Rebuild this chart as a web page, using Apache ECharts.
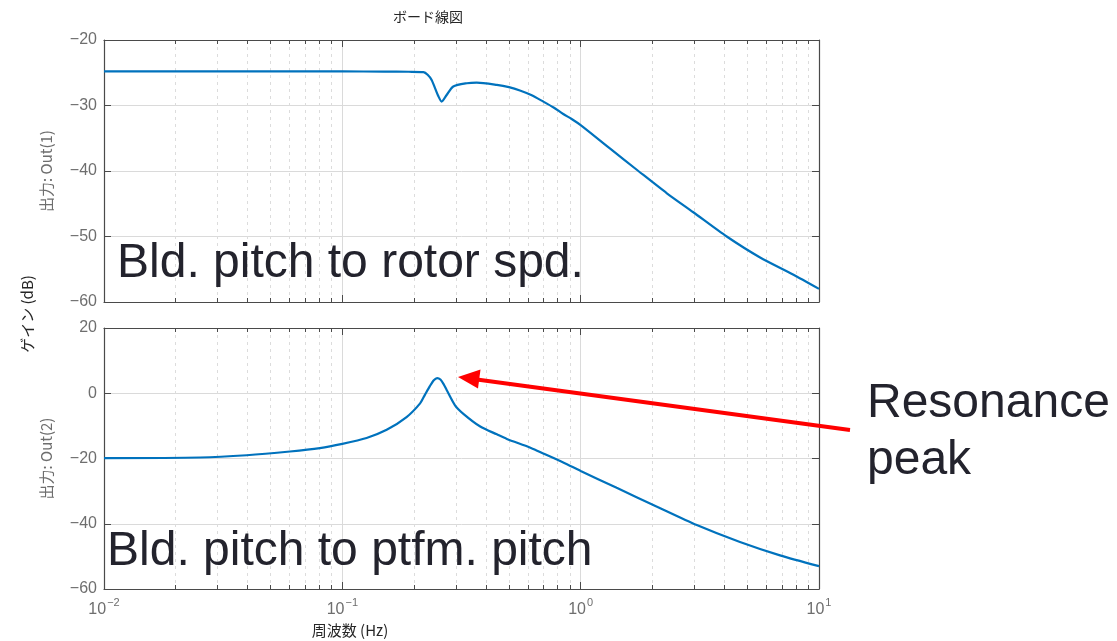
<!DOCTYPE html>
<html>
<head>
<meta charset="utf-8">
<script src="https://cdn.jsdelivr.net/npm/echarts@6/dist/echarts.min.js"></script>
<style>
  html, body { margin: 0; padding: 0; background: #fff; }
  #chart { width: 1117px; height: 641px; }
</style>
</head>
<body>
<div id="chart"></div>
<script>
// ---- data (frequency in Hz, gain in dB) ----
const topFreq = [0.01, 0.03, 0.1, 0.15, 0.19, 0.219, 0.228, 0.237, 0.253, 0.261, 0.274, 0.292, 0.333, 0.366, 0.445, 0.5, 0.556, 0.62, 0.697, 0.77, 0.845, 0.92, 1.0, 1.33, 1.746, 2.3, 2.97, 4.1, 5.66, 7.78, 10];
const topGain = [-24.8, -24.8, -24.8, -24.82, -24.85, -24.9, -25.3, -26.1, -28.6, -29.4, -28.4, -27.1, -26.6, -26.5, -26.85, -27.2, -27.7, -28.4, -29.4, -30.3, -31.3, -32.1, -33.0, -36.6, -40.0, -43.4, -46.3, -50.0, -53.2, -55.8, -58.0];
const botFreq = [0.01, 0.0253, 0.0397, 0.0603, 0.0805, 0.1, 0.1264, 0.1535, 0.186, 0.212, 0.222, 0.233, 0.242, 0.250, 0.258, 0.266, 0.274, 0.297, 0.322, 0.379, 0.445, 0.49, 0.612, 0.675, 0.845, 1.0, 1.416, 2.08, 3.07, 4.66, 6.86, 10];
const botGain = [-19.9, -19.7, -19.0, -17.85, -16.8, -15.5, -13.7, -11.2, -7.3, -3.1, -0.5, 2.2, 4.0, 4.66, 4.2, 2.8, 1.0, -3.7, -6.3, -10.2, -12.6, -14.0, -16.6, -18.0, -21.2, -23.8, -29.0, -34.7, -40.4, -45.6, -49.7, -53.0];

const xDecadeExponents = [-2, -1, 0, 1];
const minorMultipliers = [2, 3, 4, 5, 6, 7, 8, 9];
const yTicksTop = [-60, -50, -40, -30, -20];
const yTicksBot = [-60, -40, -20, 0, 20];

const titleText = 'ボード線図';
const xName = '周波数 (Hz)';
const yNameAll = 'ゲイン (dB)';
const yName1 = '出力: Out(1)';
const yName2 = '出力: Out(2)';
const note1 = 'Bld. pitch to rotor spd.';
const note2 = 'Bld. pitch to ptfm. pitch';
const note3 = ['Resonance', 'peak'];

// ---- helpers ----
const xMin = xDecadeExponents[0], xMax = xDecadeExponents[xDecadeExponents.length - 1];
const minorVals = [];
for (let e = xMin; e < xMax; e++) {
  minorMultipliers.forEach(m => minorVals.push(Math.log10(m) + e));
}
const toPts = (f, g) => f.map((v, i) => [Math.log10(v), g[i]]);

const axisColor = '#4a4a4a';
const labelColor = '#6e6e6e';
const grids = [
  { left: 104, top: 40, width: 715, height: 262 },
  { left: 104, top: 328, width: 715, height: 261 }
];

const xAxes = [];
const yAxes = [];
grids.forEach((g, gi) => {
  const isBottom = gi === 1;
  xAxes.push({
    gridIndex: gi, type: 'value', min: xMin, max: xMax, interval: 1, position: 'bottom',
    axisLine: { show: true, onZero: false, lineStyle: { color: axisColor, width: 1.2 } },
    axisTick: { show: true, inside: true, length: 7, lineStyle: { color: axisColor } },
    axisLabel: {
      show: isBottom, margin: 8,
      formatter: v => '{b|10}{s|' + (v < 0 ? '\u2212' : '') + Math.abs(Math.round(v)) + '}',
      rich: {
        b: { fontSize: 16, color: labelColor, fontFamily: 'Liberation Sans' },
        s: { fontSize: 11, color: labelColor, fontFamily: 'Liberation Sans', padding: [0, 0, 14, 1] }
      }
    },
    splitLine: { show: true, lineStyle: { color: '#dadada', width: 1 } }
  });
  xAxes.push({
    gridIndex: gi, type: 'value', min: xMin, max: xMax, position: 'bottom',
    axisLine: { show: false, onZero: false },
    axisTick: { show: true, inside: true, length: 4, customValues: minorVals, lineStyle: { color: axisColor } },
    axisLabel: { show: false },
    splitLine: { show: true, lineStyle: { color: '#dcdcdc', width: 1, type: [3, 4] } }
  });
  xAxes.push({
    gridIndex: gi, type: 'value', min: xMin, max: xMax, interval: 1, position: 'top',
    axisLine: { show: true, onZero: false, lineStyle: { color: axisColor, width: 1.2 } },
    axisTick: { show: true, inside: true, length: 7, lineStyle: { color: axisColor } },
    axisLabel: { show: false }, splitLine: { show: false }
  });
  xAxes.push({
    gridIndex: gi, type: 'value', min: xMin, max: xMax, position: 'top',
    axisLine: { show: false, onZero: false },
    axisTick: { show: true, inside: true, length: 4, customValues: minorVals, lineStyle: { color: axisColor } },
    axisLabel: { show: false }, splitLine: { show: false }
  });
  const ticks = isBottom ? yTicksBot : yTicksTop;
  const yint = ticks[1] - ticks[0];
  yAxes.push({
    gridIndex: gi, type: 'value', min: ticks[0], max: ticks[ticks.length - 1], interval: yint, position: 'left',
    name: isBottom ? yName2 : yName1, nameLocation: 'middle', nameGap: 50, nameRotate: 90,
    nameTextStyle: { color: labelColor, fontSize: 15, fontFamily: 'Noto Sans CJK JP' },
    axisLine: { show: true, onZero: false, lineStyle: { color: axisColor, width: 1.2 } },
    axisTick: { show: true, inside: true, length: 7, lineStyle: { color: axisColor } },
    axisLabel: {
      color: labelColor, fontSize: 16, fontFamily: 'Liberation Sans', margin: 7,
      formatter: v => String(v).replace('-', '\u2212')
    },
    splitLine: { show: true, lineStyle: { color: '#dadada', width: 1 } }
  });
  yAxes.push({
    gridIndex: gi, type: 'value', min: ticks[0], max: ticks[ticks.length - 1], interval: yint, position: 'right',
    axisLine: { show: true, onZero: false, lineStyle: { color: axisColor, width: 1.2 } },
    axisTick: { show: true, inside: true, length: 7, lineStyle: { color: axisColor } },
    axisLabel: { show: false }, splitLine: { show: false }
  });
});

const textColor = '#23232d';
const chart = echarts.init(document.getElementById('chart'), null, { renderer: 'canvas' });
chart.setOption({
  backgroundColor: '#ffffff',
  animation: false,
  grid: grids,
  xAxis: xAxes,
  yAxis: yAxes,
  series: [
    {
      type: 'line', xAxisIndex: 0, yAxisIndex: 0, data: toPts(topFreq, topGain),
      showSymbol: false, smooth: 0.25, lineStyle: { color: '#0072BD', width: 2.2 }, z: 5
    },
    {
      type: 'line', xAxisIndex: 4, yAxisIndex: 2, data: toPts(botFreq, botGain),
      showSymbol: false, smooth: 0.25, lineStyle: { color: '#0072BD', width: 2.2 }, z: 5
    }
  ],
  graphic: [
    { type: 'text', left: 430 - 37, top: 10, style: { text: titleText, fontSize: 14, fill: '#262626', fontFamily: 'Noto Sans CJK JP' } },
    { type: 'text', x: 350, y: 630, style: { text: xName, fontSize: 15, fill: '#262626', fontFamily: 'Noto Sans CJK JP', align: 'center', verticalAlign: 'middle' } },
    { type: 'text', x: 27, y: 314, rotation: Math.PI / 2, style: { text: yNameAll, fontSize: 15, fill: '#262626', fontFamily: 'Noto Sans CJK JP', align: 'center', verticalAlign: 'middle' } },
    { type: 'text', x: 117, y: 264, z: 20, style: { text: note1, fontSize: 48, fill: textColor, fontFamily: 'Liberation Sans', align: 'left', verticalAlign: 'middle' } },
    { type: 'text', x: 107, y: 552, z: 20, style: { text: note2, fontSize: 48, fill: textColor, fontFamily: 'Liberation Sans', align: 'left', verticalAlign: 'middle' } },
    { type: 'text', x: 867, y: 404, z: 20, style: { text: note3[0], fontSize: 48, fill: textColor, fontFamily: 'Liberation Sans', align: 'left', verticalAlign: 'middle' } },
    { type: 'text', x: 867, y: 461, z: 20, style: { text: note3[1], fontSize: 48, fill: textColor, fontFamily: 'Liberation Sans', align: 'left', verticalAlign: 'middle' } },
    { type: 'line', z: 20, shape: { x1: 850, y1: 430, x2: 475, y2: 379.3 }, style: { stroke: '#ff0000', lineWidth: 4 } },
    { type: 'polygon', z: 20, shape: { points: [[458, 377], [480.5, 369.5], [478, 388.5]] }, style: { fill: '#ff0000' } }
  ]
});
</script>
</body>
</html>
